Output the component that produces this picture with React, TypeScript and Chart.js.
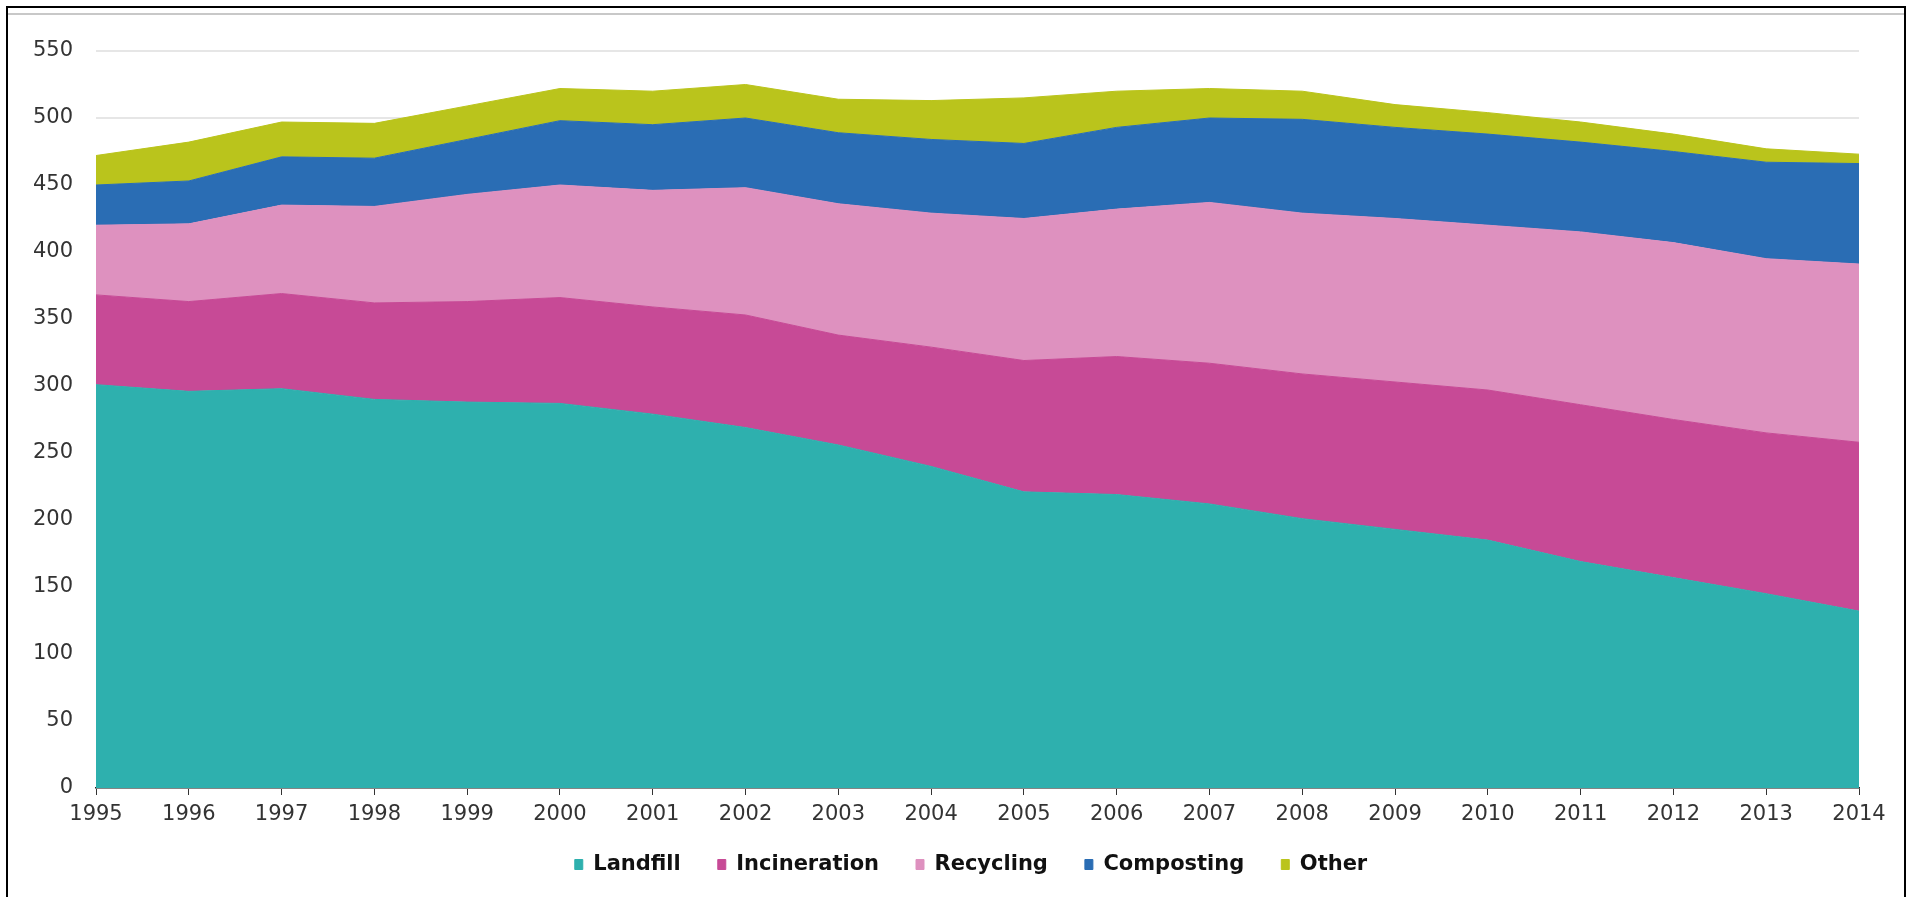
import React, { useEffect, useRef } from "react";
import { Chart, registerables } from "chart.js";

Chart.register(...registerables);

const years = [
  "1995", "1996", "1997", "1998", "1999", "2000", "2001", "2002", "2003", "2004",
  "2005", "2006", "2007", "2008", "2009", "2010", "2011", "2012", "2013", "2014",
];

const landfill = [301, 296, 298, 290, 288, 287, 279, 269, 256, 240, 221, 219, 212, 201, 193, 185, 169, 157, 145, 132];
const incineration = [67, 67, 71, 72, 75, 79, 80, 84, 82, 89, 98, 103, 105, 108, 110, 112, 117, 118, 120, 126];
const recycling = [52, 58, 66, 72, 80, 84, 87, 95, 98, 100, 106, 110, 120, 120, 122, 123, 129, 132, 130, 133];
const composting = [30, 32, 36, 36, 41, 48, 49, 52, 53, 55, 56, 61, 63, 70, 68, 68, 67, 68, 72, 75];
const other = [22, 29, 26, 26, 25, 24, 25, 25, 25, 29, 34, 27, 22, 21, 17, 16, 15, 13, 10, 7];

const seriesNames = ["Landfill", "Incineration", "Recycling", "Composting", "Other"];
const seriesColors = ["#2EB0AE", "#C74A96", "#DE91BF", "#2A6DB4", "#BAC41C"];

const yMin = 0;
const yMax = 550;
const yStep = 50;

export default function App() {
  const canvasRef = useRef<HTMLCanvasElement | null>(null);

  useEffect(() => {
    const canvas = canvasRef.current;
    if (!canvas) return;
    const seriesData = [landfill, incineration, recycling, composting, other];
    const chart = new Chart(canvas, {
      type: "line",
      data: {
        labels: years,
        datasets: seriesData.map((d, i) => ({
          label: seriesNames[i],
          data: d,
          backgroundColor: seriesColors[i],
          borderColor: seriesColors[i],
          borderWidth: 1,
          pointRadius: 0,
          tension: 0,
          fill: i === 0 ? "origin" : "-1",
        })),
      },
      options: {
        responsive: false,
        animation: false,
        events: [],
        layout: { padding: { top: 51, left: 83, right: 52, bottom: 12 } },
        plugins: {
          tooltip: { enabled: false },
          legend: {
            position: "bottom",
            labels: {
              boxWidth: 8,
              boxHeight: 10,
              padding: 37,
              color: "#111",
              font: { family: "DejaVu Sans", size: 21, weight: "bold" },
            },
          },
        },
        scales: {
          x: {
            offset: false,
            grid: {
              display: true,
              drawOnChartArea: false,
              drawTicks: true,
              tickLength: 7,
              color: "#333",
              lineWidth: 1,
            },
            border: { display: true, color: "#222", width: 1.5 },
            ticks: {
              color: "#333",
              font: { family: "DejaVu Sans", size: 21 },
              padding: 7,
              maxRotation: 0,
              autoSkip: false,
            },
            afterFit: (s: any) => {
              s.height = 29;
              s.paddingLeft = 0;
              s.paddingRight = 0;
              s._computeLabelArea = () => undefined;
            },
          },
          y: {
            stacked: true,
            min: yMin,
            max: yMax,
            ticks: {
              stepSize: yStep,
              color: "#333",
              font: { family: "DejaVu Sans", size: 21 },
              padding: 23,
            },
            grid: { color: "#e6e6e6", lineWidth: 2, drawTicks: false },
            border: { display: false },
            afterFit: (s: any) => {
              s.width = 13;
              s.paddingTop = 0;
              s.paddingBottom = 0;
              s._computeLabelArea = () => undefined;
            },
          },
        },
      },
    });
    return () => chart.destroy();
  }, []);

  return (
    <div style={{ position: "fixed", left: 0, top: 0, width: 1911, height: 897, overflow: "hidden", background: "#fff" }}>
      <div
        style={{
          position: "absolute",
          left: 6,
          top: 6,
          width: 1896,
          height: 889,
          border: "2px solid #000",
          borderBottom: "none",
          boxSizing: "content-box",
        }}
      />
      <div style={{ position: "absolute", left: 8, top: 13, width: 1896, height: 2, background: "#c8c8c8" }} />
      <canvas ref={canvasRef} width={1911} height={897} style={{ position: "absolute", left: 0, top: 0 }} />
    </div>
  );
}
